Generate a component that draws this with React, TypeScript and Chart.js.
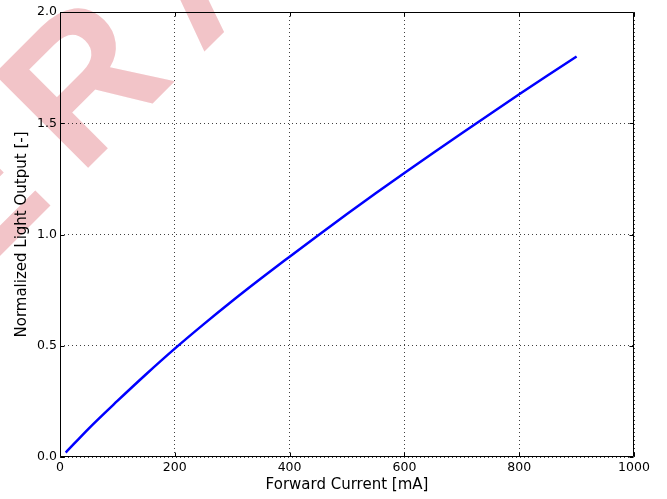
import React, { useEffect, useRef } from "react";
import { Chart, registerables } from "chart.js";

Chart.register(...registerables);

// Data
const currentMA = [10, 50, 100, 150, 200, 250, 300, 350, 400, 450, 500, 550, 600, 650, 700, 750, 800, 850, 900];
const lightOutput = [0.02, 0.128, 0.252, 0.372, 0.487, 0.596, 0.701, 0.802, 0.9, 0.997, 1.092, 1.185, 1.276, 1.366, 1.455, 1.543, 1.63, 1.716, 1.8];

const xTicks = [0, 200, 400, 600, 800, 1000];
const yTicks = [0, 0.5, 1.0, 1.5, 2.0];

const xTitle = "Forward Current [mA]";
const yTitle = "Normalized Light Output [-]";
const watermarkText = "GENERAL";

const FONT = "'DejaVu Sans', sans-serif";

const watermarkPlugin = {
  id: "watermark",
  beforeDraw(chart: any) {
    const ctx = chart.ctx as CanvasRenderingContext2D;
    ctx.save();
    ctx.fillStyle = "#f2c4c8";
    ctx.font = "bold 193px 'Liberation Sans', sans-serif";
    ctx.textBaseline = "alphabetic";
    ctx.textAlign = "left";
    ctx.translate(79, 177);
    ctx.rotate(-Math.PI / 4);
    const chars = watermarkText.split("");
    const anchor = chars.indexOf("R");
    const spacing = 33;
    const widths = chars.map((c) => ctx.measureText(c).width);
    let start = 0;
    for (let i = 0; i < anchor; i++) start -= widths[i] + spacing;
    let u = start;
    for (let i = 0; i < chars.length; i++) {
      ctx.fillText(chars[i], u, 0);
      u += widths[i] + spacing;
    }
    ctx.restore();
  },
};

const framePlugin = {
  id: "frame",
  afterDraw(chart: any) {
    const ctx = chart.ctx as CanvasRenderingContext2D;
    const { left, right, top, bottom } = chart.chartArea;
    const xs = chart.scales.x;
    const ys = chart.scales.y;
    const L = Math.round(left) + 0.5;
    const R = Math.round(right) - 0.5;
    const T = Math.round(top) + 0.5;
    const B = Math.round(bottom) - 0.5;
    ctx.save();
    ctx.strokeStyle = "#000";
    ctx.lineWidth = 1;
    ctx.setLineDash([]);
    ctx.beginPath();
    ctx.rect(L, T, R - L, B - T);
    ctx.stroke();
    const tl = 4;
    ctx.beginPath();
    xTicks.forEach((v) => {
      const px = Math.round(xs.getPixelForValue(v)) + 0.5;
      ctx.moveTo(px, B);
      ctx.lineTo(px, B - tl);
      ctx.moveTo(px, T);
      ctx.lineTo(px, T + tl);
    });
    yTicks.forEach((v) => {
      const py = Math.round(ys.getPixelForValue(v)) + 0.5;
      ctx.moveTo(L, py);
      ctx.lineTo(L + tl, py);
      ctx.moveTo(R, py);
      ctx.lineTo(R - tl, py);
    });
    ctx.stroke();
    ctx.restore();
  },
};

export default function App() {
  const ref = useRef<HTMLCanvasElement | null>(null);

  useEffect(() => {
    if (!ref.current) return;
    const chart = new Chart(ref.current, {
      type: "line",
      data: {
        datasets: [
          {
            data: currentMA.map((x, i) => ({ x, y: lightOutput[i] })),
            borderColor: "#0000ff",
            borderWidth: 2.5,
            pointRadius: 0,
            fill: false,
            cubicInterpolationMode: "monotone",
          },
        ],
      },
      options: {
        responsive: false,
        animation: false,
        layout: { padding: { left: 0, top: 12, right: 33, bottom: 0 } },
        plugins: {
          legend: { display: false },
          tooltip: { enabled: false },
        },
        scales: {
          x: {
            type: "linear",
            min: 0,
            max: 1000,
            afterBuildTicks: (s: any) => {
              s.ticks = xTicks.map((v) => ({ value: v }));
            },
            afterFit: (s: any) => {
              s.height = 42;
            },
            ticks: {
              color: "#000",
              font: { family: FONT, size: 12.5 },
              padding: 3,
              maxRotation: 0,
              callback: (v: any) => String(v),
            },
            grid: {
              color: "rgba(0,0,0,0.75)",
              lineWidth: 1,
              drawTicks: false,
            },
            border: { display: false, dash: [1, 3] },
            title: {
              display: true,
              text: xTitle,
              color: "#000",
              font: { family: FONT, size: 15 },
              padding: { top: 0, bottom: 4.5 },
            },
          },
          y: {
            type: "linear",
            min: 0,
            max: 2,
            afterBuildTicks: (s: any) => {
              s.ticks = yTicks.map((v) => ({ value: v }));
            },
            afterFit: (s: any) => {
              s.width = 60;
            },
            ticks: {
              color: "#000",
              font: { family: FONT, size: 12.5 },
              padding: 3,
              callback: (v: any) => Number(v).toFixed(1),
            },
            grid: {
              color: "rgba(0,0,0,0.75)",
              lineWidth: 1,
              drawTicks: false,
            },
            border: { display: false, dash: [1, 3] },
            title: {
              display: true,
              text: yTitle,
              color: "#000",
              font: { family: FONT, size: 15 },
              padding: { top: 13, bottom: 0 },
            },
          },
        },
      },
      plugins: [watermarkPlugin, framePlugin],
    } as any);
    return () => chart.destroy();
  }, []);

  return (
    <div style={{ position: "fixed", left: 0, top: 0, width: 667, height: 499, background: "#fff" }}>
      <canvas ref={ref} width={667} height={499} style={{ width: 667, height: 499, display: "block" }} />
    </div>
  );
}
